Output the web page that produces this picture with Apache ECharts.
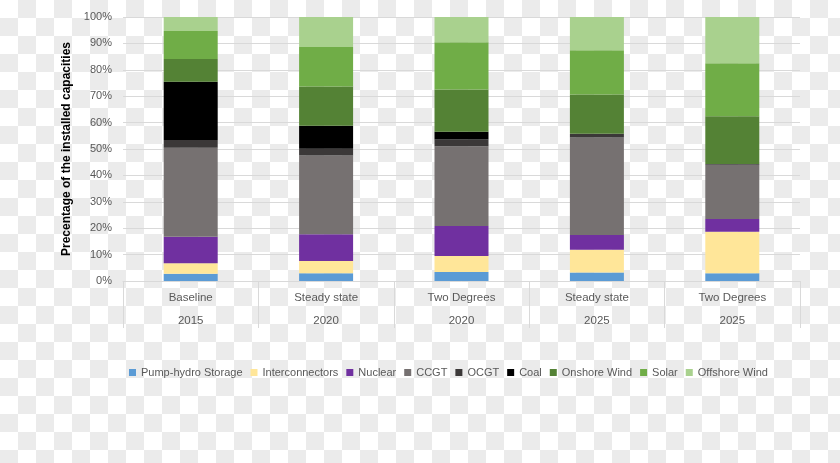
<!DOCTYPE html>
<html><head><meta charset="utf-8">
<script src="https://cdn.jsdelivr.net/npm/echarts@6/dist/echarts.min.js"></script>
<style>
html,body{margin:0;padding:0;}
body{width:840px;height:463px;background:repeating-conic-gradient(#ebebeb 0 25%, #ffffff 0 50%) 0 0/36px 36px;}
#c{width:840px;height:463px;}
</style></head>
<body><div id="c"></div>
<script>
const scenarios = ['Baseline','Steady state','Two Degrees','Steady state','Two Degrees'];
const years = ['2015','2020','2020','2025','2025'];
const yTicks = ['0%','10%','20%','30%','40%','50%','60%','70%','80%','90%','100%'];

const pumpHydro      = [2.7, 2.9, 3.4, 3.2, 2.9];
const interconnectors= [4.0, 4.7, 6.1, 8.6, 15.8];
const nuclear        = [10.1, 10.1, 11.3, 5.6, 4.8];
const ccgt           = [33.7, 29.8, 30.2, 37.0, 20.5];
const ocgt           = [2.9, 2.6, 2.6, 1.4, 0.3];
const coal           = [22.1, 8.7, 2.9, 0, 0];
const onshoreWind    = [8.6, 14.9, 16.0, 14.8, 18.1];
const solar          = [10.6, 14.9, 17.9, 16.8, 20.1];
const offshoreWind   = [5.3, 11.4, 9.6, 12.6, 17.5];

const seriesDefs = [
  ['Pump-hydro Storage', pumpHydro, '#5B9BD5'],
  ['Interconnectors', interconnectors, '#FFE699'],
  ['Nuclear', nuclear, '#7030A0'],
  ['CCGT', ccgt, '#767171'],
  ['OCGT', ocgt, '#3B3838'],
  ['Coal', coal, '#000000'],
  ['Onshore Wind', onshoreWind, '#548235'],
  ['Solar', solar, '#70AD47'],
  ['Offshore Wind', offshoreWind, '#A9D18E']
];

const font = 'Liberation Sans, Arial, sans-serif';
const chart = echarts.init(document.getElementById('c'), null, {renderer:'canvas'});
chart.setOption({
  backgroundColor: 'transparent',
  animation: false,
  grid: {left: 123, right: 40, top: 17, bottom: 182},
  legend: {
    top: 362, left: 124,
    icon: 'rect', itemWidth: 7, itemHeight: 7, itemGap: 8,
    textStyle: {color: '#595959', fontSize: 11, fontFamily: font},
    data: seriesDefs.map(d => d[0])
  },
  xAxis: {
    type: 'category',
    data: scenarios.map((s, i) => s + '\n' + years[i]),
    axisLine: {lineStyle: {color: '#d9d9d9'}},
    axisTick: {show: true, length: 47, lineStyle: {color: '#d9d9d9'}, alignWithLabel: false},
    axisLabel: {color: '#595959', fontSize: 11.5, fontFamily: font, lineHeight: 23, margin: 5}
  },
  yAxis: {
    type: 'value', min: 0, max: 100, interval: 10,
    name: 'Precentage of the installed capacities',
    nameLocation: 'middle', nameGap: 45, nameRotate: 90,
    nameTextStyle: {color: '#000', fontSize: 12, fontWeight: 'bold', fontFamily: font},
    axisLabel: {color: '#595959', fontSize: 11, fontFamily: font, margin: 11,
      formatter: v => yTicks[Math.round(v / 10)]},
    axisLine: {show: false}, axisTick: {show: false},
    splitLine: {lineStyle: {color: '#d9d9d9'}}
  },
  series: seriesDefs.map(d => ({
    name: d[0], type: 'bar', stack: 'total', data: d[1],
    barWidth: 54, itemStyle: {color: d[2]}
  }))
});
</script></body></html>
